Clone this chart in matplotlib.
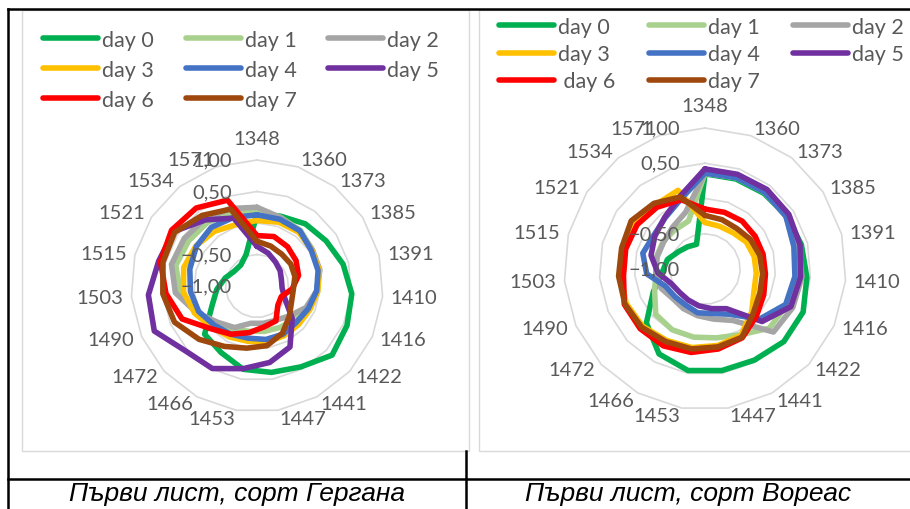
import numpy as np
import matplotlib
matplotlib.use("Agg")
import matplotlib.pyplot as plt
from matplotlib.lines import Line2D
from matplotlib.patches import Rectangle

# ---------------- data ----------------
categories = ["1348", "1360", "1373", "1385", "1391", "1410", "1416", "1422", "1441",
              "1447", "1453", "1466", "1472", "1490", "1503", "1515", "1521", "1534", "1571"]
series_names = ["day 0", "day 1", "day 2", "day 3", "day 4", "day 5", "day 6", "day 7"]
series_names_right = ["day 0", "day 1", "day 2", "day 3", "day 4", "day 5", " day 6", "day 7"]
series_colors = ["#00B050", "#A9D18E", "#A5A5A5", "#FFC000", "#4472C4", "#7030A0", "#FF0000", "#9E480E"]
radial_ticks = [-1.0, -0.5, 0.5, 1.0]
radial_labels = ["\u22121,00", "\u22120,50", "0,50", "1,00"]
grid_levels = [-0.5, 0.0, 0.5, 1.0]
captions = ["Първи лист, сорт Гергана", "Първи лист, сорт Вореас"]

# Gergana (left chart)
g_day0 = [0.15, 0.17, 0.25, 0.31, 0.41, 0.51, 0.56, 0.62, 0.46, 0.39, 0.34, 0.20, 0.13, -0.22, -0.36, -0.48, -0.57, -0.58, -0.47]
g_day1 = [0.20, 0.15, 0.12, 0.05, 0.02, -0.05, -0.12, -0.20, -0.25, -0.27, -0.27, -0.22, -0.12, 0.05, 0.22, 0.33, 0.30, 0.28, 0.22]
g_day2 = [0.25, 0.15, 0.10, 0.05, 0.03, -0.05, -0.15, -0.30, -0.38, -0.40, -0.40, -0.25, -0.15, 0.05, 0.30, 0.40, 0.38, 0.35, 0.30]
g_day3 = [0.04, 0.07, 0.08, 0.04, 0.02, -0.03, -0.08, -0.10, -0.10, -0.10, -0.11, -0.08, -0.03, 0.08, 0.17, 0.20, 0.16, 0.10, 0.03]
g_day4 = [0.13, 0.12, 0.11, 0.03, 0.00, -0.05, -0.11, -0.15, -0.13, -0.14, -0.16, -0.13, -0.08, 0.01, 0.06, 0.10, 0.15, 0.18, 0.15]
g_day5 = [-0.37, -0.45, -0.52, -0.56, -0.60, -0.60, -0.52, -0.24, 0.10, 0.23, 0.33, 0.49, 0.53, 0.78, 0.73, 0.61, 0.58, 0.33, 0.14]
g_day6 = [-0.20, -0.17, -0.21, -0.26, -0.32, -0.44, -0.58, -0.55, -0.37, -0.34, -0.25, -0.13, 0.00, 0.30, 0.45, 0.58, 0.62, 0.57, 0.44]
g_day7 = [-0.29, -0.33, -0.36, -0.36, -0.38, -0.42, -0.40, -0.30, -0.15, -0.04, 0.00, 0.09, 0.25, 0.43, 0.50, 0.54, 0.56, 0.42, 0.29]

# Voreas (right chart)
v_day0 = [0.35, 0.35, 0.36, 0.38, 0.41, 0.45, 0.52, 0.52, 0.47, 0.46, 0.46, 0.37, 0.13, -0.20, -0.39, -0.45, -0.55, -0.60, -0.63]
v_day1 = [0.36, 0.37, 0.38, 0.37, 0.33, 0.30, 0.27, 0.24, 0.06, -0.01, -0.02, -0.02, -0.05, -0.22, -0.30, -0.29, -0.29, -0.30, -0.28]
v_day2 = [0.36, 0.37, 0.38, 0.37, 0.37, 0.38, 0.36, 0.32, -0.17, -0.28, -0.33, -0.36, -0.38, -0.32, -0.30, -0.30, -0.30, -0.25, -0.15]
v_day3 = [-0.34, -0.36, -0.35, -0.30, -0.28, -0.27, -0.24, -0.10, 0.07, 0.10, 0.13, 0.15, 0.20, 0.22, 0.20, 0.20, 0.20, 0.15, 0.18]
v_day4 = [0.36, 0.37, 0.38, 0.37, 0.30, 0.28, 0.25, 0.05, -0.27, -0.36, -0.37, -0.42, -0.42, -0.39, -0.17, -0.09, -0.13, -0.08, 0.05]
v_day5 = [0.42, 0.42, 0.43, 0.42, 0.39, 0.36, 0.33, 0.10, -0.36, -0.43, -0.47, -0.50, -0.51, -0.48, -0.33, -0.21, -0.15, -0.07, 0.09]
v_day6 = [-0.15, -0.15, -0.14, -0.15, -0.15, -0.14, -0.09, -0.01, 0.11, 0.15, 0.20, 0.24, 0.25, 0.25, 0.16, 0.16, 0.15, 0.11, 0.04]
v_day7 = [-0.24, -0.26, -0.27, -0.23, -0.20, -0.18, -0.15, -0.07, 0.10, 0.12, 0.15, 0.17, 0.22, 0.24, 0.23, 0.22, 0.25, 0.18, 0.08]

gergana = [g_day0, g_day1, g_day2, g_day3, g_day4, g_day5, g_day6, g_day7]
voreas = [v_day0, v_day1, v_day2, v_day3, v_day4, v_day5, v_day6, v_day7]

# ---------------- style ----------------
W, H = 910, 510
FONT = ["Lato", "DejaVu Sans"]
FS = 14.5
LFS = 15.5
TXT = "#595959"
GRID = "#D9D9D9"
LW = 4.0

fig = plt.figure(figsize=(W / 100, H / 100), dpi=100)
fig.patch.set_facecolor("white")


def fx(x):
    return x / W


def fy(y):
    return 1 - y / H


# table lines and chart frames
fig.add_artist(Rectangle((fx(22), fy(452)), (469 - 22) / W, (452 - 11) / H, transform=fig.transFigure,
                         fill=True, facecolor="white", edgecolor=GRID, lw=1.0, zorder=0))
fig.add_artist(Rectangle((fx(479), fy(452)), (930 - 479) / W, (452 - 11) / H, transform=fig.transFigure,
                         fill=True, facecolor="white", edgecolor=GRID, lw=1.0, zorder=0))
for xs, ys in [([8, W], [10, 10]), ([8, 8], [10, H]), ([8, W], [480, 480]), ([466, 466], [452, H])]:
    fig.add_artist(Line2D([fx(v) for v in xs], [fy(v) for v in ys], transform=fig.transFigure,
                          color="black", lw=1.8, zorder=5))

theta = np.linspace(0, 2 * np.pi, len(categories), endpoint=False)
theta_c = np.append(theta, theta[0])

renderer = fig.canvas.get_renderer()
tmp = fig.text(0, 0, "day 0", fontsize=LFS, family=FONT)
w_txt = tmp.get_window_extent(renderer).width
tmp.remove()
lfs_px = LFS * 100 / 72


def radar(cx, cy, R, data, names, leg_xy, leg_pitch, leg_rowgap):
    ax = fig.add_axes([fx(cx - R), fy(cy + R), 2 * R / W, 2 * R / H], projection="polar")
    ax.set_theta_zero_location("N")
    ax.set_theta_direction(-1)
    ax.set_ylim(-1, 1)
    ax.axis("off")
    for lev in grid_levels:
        ax.plot(theta_c, [lev] * len(theta_c), color=GRID, lw=1.2, zorder=1, clip_on=False)
    lines = []
    for vals, col, name in zip(data, series_colors, names):
        ln, = ax.plot(theta_c, list(vals) + [vals[0]], color=col, lw=LW, label=name,
                      solid_joinstyle="round", solid_capstyle="round", zorder=3, clip_on=False)
        lines.append(ln)
    for i, lab in enumerate(categories):
        s, c = np.sin(theta[i]), np.cos(theta[i])
        if i == 0:
            off, ha, va = (0, 22), "center", "center"
        else:
            off = (8 * s, 8 * c)
            ha = "left" if s > 0 else "right"
            va = "center"
        ax.annotate(lab, xy=(theta[i], 1.0), xytext=off, textcoords="offset pixels",
                    ha=ha, va=va, fontsize=FS, color=TXT, family=FONT, annotation_clip=False)
    for v, lab in zip(radial_ticks, radial_labels):
        ax.annotate(lab, xy=(0, v), xytext=(-25, 0), textcoords="offset pixels",
                    ha="right", va="center", fontsize=FS, color=TXT, family=FONT, annotation_clip=False)
    order = [0, 3, 6, 1, 4, 7, 2, 5]
    hl = 55 / lfs_px
    hp = 4 / lfs_px
    cs = (leg_pitch - 55 - 4 - w_txt) / lfs_px
    leg = fig.legend([lines[k] for k in order], [names[k] for k in order], loc="upper left",
                     bbox_to_anchor=(fx(leg_xy[0]), fy(leg_xy[1])), bbox_transform=fig.transFigure,
                     ncol=3, frameon=False, prop={"family": FONT, "size": LFS},
                     handlelength=hl, handletextpad=hp, columnspacing=cs, labelspacing=leg_rowgap,
                     borderpad=0, borderaxespad=0, labelcolor=TXT)
    for h in leg.get_lines():
        h.set_linewidth(LW)
        h.set_solid_capstyle("round")
    return ax


radar(257, 287, 126, gergana, series_names, (43, 31), 142.4, 0.46)
radar(705, 270, 141, voreas, series_names_right, (499, 18), 144.0, 0.33)

fig.text(fx(237), fy(494), captions[0], ha="center", va="center", fontsize=19, style="italic",
         family=["Liberation Sans", "DejaVu Sans"], color="black")
fig.text(fx(688), fy(494), captions[1], ha="center", va="center", fontsize=19, style="italic",
         family=["Liberation Sans", "DejaVu Sans"], color="black")

fig.savefig("out.png", dpi=100, facecolor="white")
